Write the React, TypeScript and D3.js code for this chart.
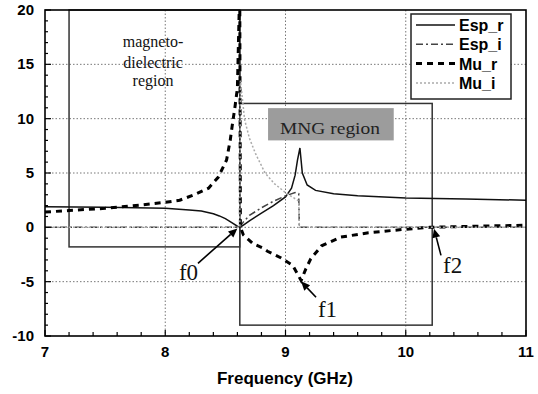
import React from "react";
import * as d3 from "d3";

const xTicks = [7, 8, 9, 10, 11];
const yTicks = [-10, -5, 0, 5, 10, 15, 20];
const gridX = [8, 9, 10];
const gridY = [-5, 0, 5, 10, 15];
const legendLabels = ["Esp_r", "Esp_i", "Mu_r", "Mu_i"];

const espR: [number, number][] = [
  [7.0, 1.9], [7.5, 1.85], [8.0, 1.75], [8.2, 1.6], [8.3, 1.5], [8.4, 1.25], [8.45, 1.05],
  [8.5, 0.8], [8.55, 0.45], [8.6, 0.1], [8.62, 0], [8.65, 0.2], [8.7, 0.6], [8.8, 1.3],
  [8.9, 2.0], [9.0, 2.8], [9.05, 3.6], [9.08, 4.8], [9.1, 6.2], [9.12, 7.3], [9.14, 5.0],
  [9.18, 3.9], [9.25, 3.4], [9.4, 3.1], [9.6, 2.9], [10.0, 2.7], [10.5, 2.6], [11.0, 2.5],
];
const espI: [number, number][] = [
  [7.0, 0], [8.62, 0], [8.65, 0.5], [8.7, 1.1], [8.8, 1.8], [8.9, 2.4], [9.0, 2.9],
  [9.08, 3.2], [9.11, 3.1], [9.115, 0], [11.0, 0],
];
const muR: [number, number][] = [
  [7.0, 1.4], [7.2, 1.55], [7.5, 1.75], [7.8, 2.05], [8.0, 2.3], [8.12, 2.5], [8.23, 2.95],
  [8.36, 3.6], [8.44, 4.6], [8.51, 6.2], [8.54, 8.0], [8.56, 9.6], [8.58, 11.1], [8.6, 12.8],
  [8.615, 20], [8.62, 20], [8.625, 0], [8.65, -0.7], [8.73, -1.5], [8.81, -1.9], [8.85, -2.2],
  [8.96, -2.8], [9.06, -3.5], [9.1, -4.3], [9.13, -4.9], [9.17, -3.8], [9.21, -2.9],
  [9.3, -1.7], [9.46, -0.9], [9.69, -0.5], [9.97, -0.2], [10.2, 0], [10.6, 0.1], [11.0, 0.2],
];
const muI: [number, number][] = [
  [7.0, 0], [8.62, 0], [8.625, 13.5], [8.64, 12], [8.66, 9.9], [8.7, 8.2], [8.75, 6.8],
  [8.83, 5.0], [8.91, 4.0], [9.01, 3.1], [9.1, 2.5], [9.11, 2.4], [9.115, 0], [11.0, 0],
];

const W = 538;
const H = 394;
const x = d3.scaleLinear().domain([7, 11]).range([45, 526]);
const y = d3.scaleLinear().domain([-10, 20]).range([336, 10]);
const line = d3
  .line<[number, number]>()
  .x((d) => x(d[0]))
  .y((d) => y(d[1]));

const styles = [
  { stroke: "#111", width: 1.5, dash: "" },
  { stroke: "#444", width: 1.5, dash: "7,3,2,3" },
  { stroke: "#000", width: 3, dash: "6,5" },
  { stroke: "#aaa", width: 1.5, dash: "2,2" },
];
const series = [espR, espI, muR, muI];

const sans = "Liberation Sans, Arial, sans-serif";
const serif = "Liberation Serif, Times New Roman, serif";

function Arrow({ x1, y1, x2, y2 }: { x1: number; y1: number; x2: number; y2: number }) {
  const px1 = x(x1), py1 = y(y1), px2 = x(x2), py2 = y(y2);
  const ang = Math.atan2(py2 - py1, px2 - px1);
  const L = 9, Wd = 4;
  const bx = px2 - L * Math.cos(ang), by = py2 - L * Math.sin(ang);
  const p = [
    [px2, py2],
    [bx + Wd * Math.sin(ang), by - Wd * Math.cos(ang)],
    [bx - Wd * Math.sin(ang), by + Wd * Math.cos(ang)],
  ];
  return (
    <g>
      <line x1={px1} y1={py1} x2={bx} y2={by} stroke="#000" strokeWidth={1.6} />
      <polygon points={p.map((q) => q.join(",")).join(" ")} fill="#000" />
    </g>
  );
}

export default function App() {
  const minorX = d3.range(7, 11.0001, 0.2);
  const minorY = d3.range(-10, 20.0001, 1);
  return (
    <svg width={W} height={H} style={{ position: "absolute", left: 0, top: 0, background: "#fff" }}>
      <rect x={0} y={0} width={W} height={H} fill="#fff" />
      {/* grid */}
      {gridX.map((g) => (
        <line key={"gx" + g} x1={x(g)} x2={x(g)} y1={y(20)} y2={y(-10)} stroke="#777" strokeWidth={1} strokeDasharray="1.5,2" />
      ))}
      {gridY.map((g) => (
        <line key={"gy" + g} x1={x(7)} x2={x(11)} y1={y(g)} y2={y(g)} stroke="#777" strokeWidth={1} strokeDasharray="1.5,2" />
      ))}
      {/* region boxes */}
      <rect x={x(7.2)} y={y(20)} width={x(8.62) - x(7.2)} height={y(-1.8) - y(20)} fill="none" stroke="#333" strokeWidth={1.5} />
      <rect x={x(8.62)} y={y(11.4)} width={x(10.22) - x(8.62)} height={y(-9) - y(11.4)} fill="none" stroke="#333" strokeWidth={1.5} />
      <line x1={x(8.62)} x2={x(8.62)} y1={y(20)} y2={y(11.4)} stroke="#333" strokeWidth={1.5} />
      {/* MNG label */}
      <rect x={x(8.855)} y={y(10.97)} width={x(9.9) - x(8.855)} height={y(8.0) - y(10.97)} fill="#9c9c9c" />
      <text x={x(9.37)} y={y(8.6)} textAnchor="middle" fontFamily={serif} fontSize={17} fill="#222" textLength={100} lengthAdjust="spacingAndGlyphs">
        MNG region
      </text>
      {/* magneto-dielectric label */}
      <text fontFamily={serif} fontSize={16} fill="#111" textAnchor="middle">
        <tspan x={153} y={47}>magneto-</tspan>
        <tspan x={153} y={68}>dielectric</tspan>
        <tspan x={153} y={86}>region</tspan>
      </text>
      {/* curves */}
      {series.map((s, i) => (
        <path key={"s" + i} d={line(s) || ""} fill="none" stroke={styles[i].stroke} strokeWidth={styles[i].width} strokeDasharray={styles[i].dash} />
      ))}
      {/* annotations */}
      <Arrow x1={8.272} y1={-3.31} x2={8.6} y2={-0.1} />
      <Arrow x1={9.254} y1={-6.44} x2={9.129} y2={-4.97} />
      <Arrow x1={10.293} y1={-2.58} x2={10.235} y2={-0.12} />
      <text x={x(8.114)} y={y(-4.88)} fontFamily={serif} fontSize={23} fill="#111">f0</text>
      <text x={x(9.27)} y={y(-8.28)} fontFamily={serif} fontSize={23} fill="#111">f1</text>
      <text x={x(10.31)} y={y(-4.23)} fontFamily={serif} fontSize={23} fill="#111">f2</text>
      {/* legend */}
      <rect x={411} y={14} width={100} height={85} fill="#fff" stroke="#222" strokeWidth={1.5} />
      {legendLabels.map((lab, i) => {
        const cy = 25 + i * 19.3;
        return (
          <g key={lab}>
            <line x1={416} x2={455} y1={cy} y2={cy} stroke={styles[i].stroke} strokeWidth={styles[i].width} strokeDasharray={styles[i].dash} />
            <text x={459} y={cy + 6} fontFamily={sans} fontWeight="bold" fontSize={16} fill="#000">{lab}</text>
          </g>
        );
      })}
      {/* axes frame */}
      <rect x={x(7)} y={y(20)} width={x(11) - x(7)} height={y(-10) - y(20)} fill="none" stroke="#000" strokeWidth={1.6} />
      {minorX.map((t, i) => {
        const major = Math.abs(t - Math.round(t)) < 1e-6;
        return <line key={"tx" + i} x1={x(t)} x2={x(t)} y1={y(-10)} y2={y(-10) - (major ? 6 : 4)} stroke="#000" strokeWidth={1.2} />;
      })}
      {minorY.map((t, i) => {
        const major = t % 5 === 0;
        return <line key={"ty" + i} x1={x(7)} x2={x(7) + (major ? 6 : 3)} y1={y(t)} y2={y(t)} stroke="#000" strokeWidth={1.2} />;
      })}
      {xTicks.map((t) => (
        <text key={"xl" + t} x={x(t)} y={357} textAnchor="middle" fontFamily={sans} fontWeight="bold" fontSize={15} fill="#000">
          {t}
        </text>
      ))}
      {yTicks.map((t) => (
        <text key={"yl" + t} x={34} y={y(t) + 5} textAnchor="end" fontFamily={sans} fontWeight="bold" fontSize={15} fill="#000">
          {t}
        </text>
      ))}
      <text x={285} y={384} textAnchor="middle" fontFamily={sans} fontWeight="bold" fontSize={17} fill="#000">
        Frequency (GHz)
      </text>
    </svg>
  );
}
